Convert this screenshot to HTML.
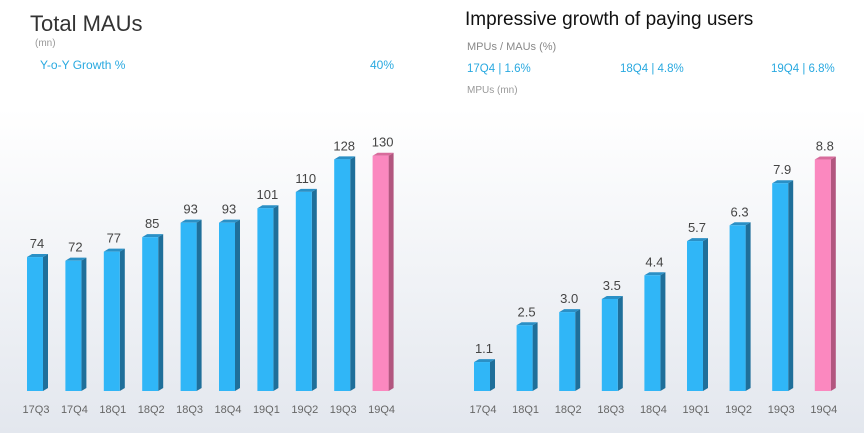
<!DOCTYPE html>
<html><head><meta charset="utf-8"><style>
body{margin:0;width:864px;height:433px;overflow:hidden;font-family:"Liberation Sans",sans-serif}
</style></head><body>
<svg width="864" height="433" xmlns="http://www.w3.org/2000/svg" font-family="Liberation Sans, sans-serif">
<defs><linearGradient id="bg" x1="0" y1="0" x2="0" y2="1">
<stop offset="0" stop-color="#fff"/><stop offset="0.25" stop-color="#fff"/><stop offset="1" stop-color="#e3e7ee"/></linearGradient></defs>
<rect width="864" height="433" fill="url(#bg)"/>
<text x="30" y="31" font-size="22" fill="#333">Total MAUs</text>
<text x="35" y="46" font-size="10" fill="#999">(mn)</text>
<text x="40" y="69" font-size="12" fill="#29a9e0">Y-o-Y Growth %</text>
<text x="370" y="69" font-size="12" fill="#29a9e0">40%</text>
<text x="465" y="25" font-size="19" fill="#111">Impressive growth of paying users</text>
<text x="467" y="50" font-size="11" fill="#888">MPUs / MAUs (%)</text>
<text x="467" y="72" font-size="11.5" fill="#29a9e0">17Q4 | 1.6%</text>
<text x="620" y="72" font-size="11.5" fill="#29a9e0">18Q4 | 4.8%</text>
<text x="771" y="72" font-size="11.5" fill="#29a9e0">19Q4 | 6.8%</text>
<text x="467" y="93" font-size="10" fill="#999">MPUs (mn)</text>
<g id="bars"></g>
</svg>
<script>
const g=document.getElementById('bars');let s='';
function bar(x,top,v,c,pink){const b=391;const f=pink?'#fb88bf':'#30b6f7',sd=pink?'#b2567f':'#1f6f9a',tp=pink?'#d86c9c':'#2a90c6';
s+=`<polygon points="${x+16},${top} ${x+21},${top-3} ${x+21},${b-3} ${x+16},${b}" fill="${sd}"/>`;
s+=`<polygon points="${x},${top} ${x+5},${top-3} ${x+21},${top-3} ${x+16},${top}" fill="${tp}"/>`;
s+=`<rect x="${x}" y="${top}" width="16" height="${b-top}" fill="${f}"/>`;
s+=`<text x="${x+10}" y="${top-9}" font-size="13" fill="#444" text-anchor="middle">${v}</text>`;
s+=`<text x="${x+9}" y="413" font-size="11" fill="#666" text-anchor="middle">${c}</text>`;}
const L=[74,72,77,85,93,93,101,110,128,130],LC=['17Q3','17Q4','18Q1','18Q2','18Q3','18Q4','19Q1','19Q2','19Q3','19Q4'];
L.forEach((v,i)=>bar(27+i*38.4,391-v*1.81,v,LC[i],i==9));
const R=[1.1,2.5,3.0,3.5,4.4,5.7,6.3,7.9,8.8],RC=['17Q4','18Q1','18Q2','18Q3','18Q4','19Q1','19Q2','19Q3','19Q4'];
R.forEach((v,i)=>bar(474+i*42.6,391-v*26.3,v.toFixed(1),RC[i],i==8));
g.innerHTML=s;
</script>
</body></html>
